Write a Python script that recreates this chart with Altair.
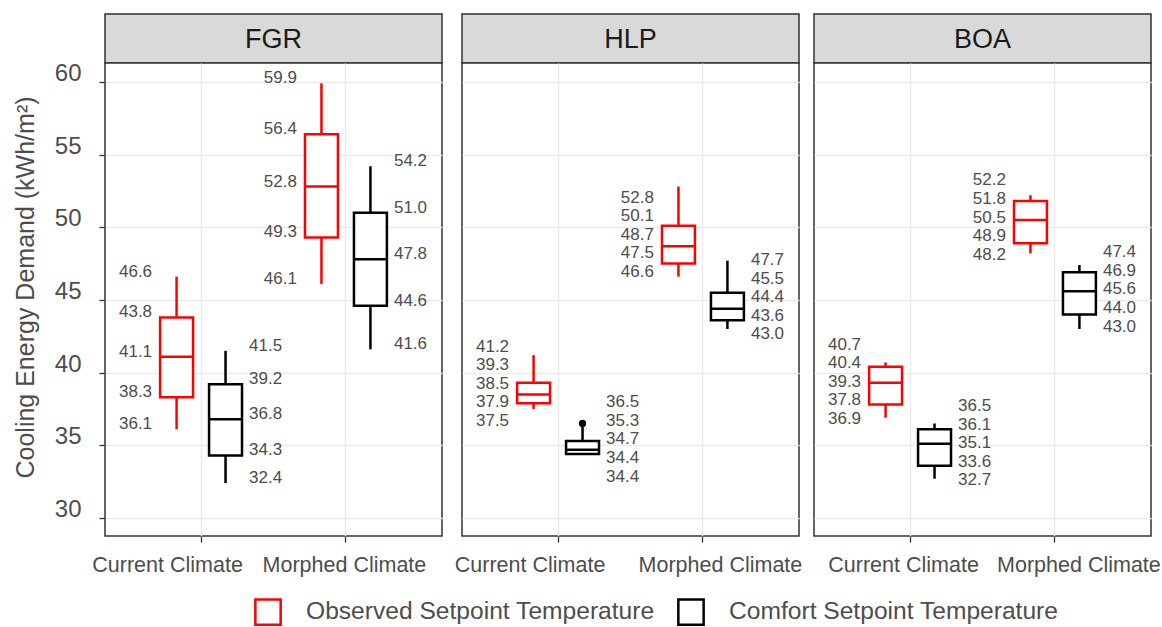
import altair as alt
import pandas as pd

# ---------------- data ----------------
sites = ["FGR", "HLP", "BOA"]
climates = ["Current Climate", "Morphed Climate"]
setpoints = ["Observed Setpoint Temperature", "Comfort Setpoint Temperature"]

# order inside each site: Current/Observed, Current/Comfort, Morphed/Observed, Morphed/Comfort
y_min = [36.1, 32.4, 46.1, 41.6, 37.5, 34.4, 46.6, 43.0, 36.9, 32.7, 48.2, 43.0]
y_q1 = [38.3, 34.3, 49.3, 44.6, 37.9, 34.4, 47.5, 43.6, 37.8, 33.6, 48.9, 44.0]
y_med = [41.1, 36.8, 52.8, 47.8, 38.5, 34.7, 48.7, 44.4, 39.3, 35.1, 50.5, 45.6]
y_q3 = [43.8, 39.2, 56.4, 51.0, 39.3, 35.3, 50.1, 45.5, 40.4, 36.1, 51.8, 46.9]
y_max = [46.6, 41.5, 59.9, 54.2, 41.2, 36.5, 52.8, 47.7, 40.7, 36.5, 52.2, 47.4]

outlier_site = ["HLP"]
outlier_climate = ["Current Climate"]
outlier_setpoint = ["Comfort Setpoint Temperature"]
outlier_value = [36.5]

# ---------------- layout / style ----------------
W, H, STRIP_H = 337, 473, 49
DOMAIN = [28.76, 61.3]
PX_PER_UNIT = H / (DOMAIN[1] - DOMAIN[0])
LABEL_GAP = 18.6 / PX_PER_UNIT
RED, BLACK, GREY_TXT = "#FF0000", "#000000", "#4D4D4D"
FONT = "Liberation Sans"
XLAB_OFFSETS = {"FGR": (-33.5, -1.5), "HLP": (-28, 17.5), "BOA": (-6.5, 24)}

rows = []
k = 0
for s in sites:
    for c in climates:
        for p in setpoints:
            rows.append(dict(site=s, climate=c, setpoint=p, ymin=y_min[k], q1=y_q1[k],
                             med=y_med[k], q3=y_q3[k], ymax=y_max[k]))
            k += 1
df = pd.DataFrame(rows)


def place_labels(values, gap):
    """labels stay at their values when they fit; otherwise the group is stacked
    evenly (spacing `gap`) around the mean of the values."""
    order = sorted(range(len(values)), key=lambda i: -values[i])
    sv = [values[i] for i in order]
    if min(a - b for a, b in zip(sv, sv[1:])) >= gap:
        return list(values)
    centre = sum(values) / len(values)
    n = len(values)
    out = [0.0] * n
    for j, i in enumerate(order):
        out[i] = centre + ((n - 1) / 2 - j) * gap
    return out


lab_rows = []
for r in rows:
    vals = [r["ymax"], r["q3"], r["med"], r["q1"], r["ymin"]]
    pos = place_labels(vals, LABEL_GAP)
    for v, py in zip(vals, pos):
        lab_rows.append(dict(site=r["site"], climate=r["climate"], setpoint=r["setpoint"],
                             value=v, label_y=py))
labels = pd.DataFrame(lab_rows)

outliers = pd.DataFrame(dict(site=outlier_site, climate=outlier_climate,
                             setpoint=outlier_setpoint, value=outlier_value))

xscale = alt.Scale(domain=climates, paddingInner=0, paddingOuter=0.163)
xoscale = alt.Scale(domain=setpoints, paddingInner=0.327, paddingOuter=0.643)
yscale = alt.Scale(domain=DOMAIN, nice=False, zero=False)
cscale = alt.Scale(domain=setpoints, range=[RED, BLACK])
LEGEND = alt.Legend(title=None, orient="none", legendX=149, legendY=584,
                    direction="horizontal", columns=2, symbolType="square",
                    symbolSize=640, symbolStrokeWidth=2.5, symbolFillColor="white",
                    labelFontSize=24.6, labelColor=GREY_TXT, labelFont=FONT, labelOffset=24,
                    columnPadding=18, labelLimit=500, padding=0)
YTICKS = [30, 35, 40, 45, 50, 55, 60]


def panel(site, idx):
    d = df[df.site == site]
    dl = labels[labels.site == site]
    do = outliers[outliers.site == site]
    off_cur, off_mor = XLAB_OFFSETS[site]
    xaxis = alt.Axis(title=None, grid=True, bandPosition=0.5, domain=False, ticks=True,
                     labelFont=FONT, labelFontSize=21.5, labelColor=GREY_TXT,
                     labelPadding=12, labelLimit=400, labelOverlap=False, labelAngle=0,
                     labelOffset={"condition": {"test": "datum.value === 'Current Climate'",
                                                "value": off_cur}, "value": off_mor})
    if idx == 0:
        yaxis = alt.Axis(values=YTICKS, title="Cooling Energy Demand (kWh/m²)",
                         grid=True, domain=False, labelFontSize=24, labelColor=GREY_TXT,
                         labelPadding=18, labelOffset=-8.5, titleFontSize=25, titleColor=GREY_TXT,
                         titleFontWeight="normal", titlePadding=16, titleFont=FONT, titleY=224)
    else:
        yaxis = alt.Axis(values=YTICKS, title=None, grid=True, domain=False,
                         labels=False, ticks=False)
    x = alt.X("climate:N", sort=climates, scale=xscale, axis=xaxis)
    xo = alt.XOffset("setpoint:N", sort=setpoints, scale=xoscale)
    stroke = alt.Stroke("setpoint:N", sort=setpoints, scale=cscale, legend=LEGEND)

    def Y(field):
        return alt.Y(field, type="quantitative", scale=yscale, axis=yaxis)

    whisk = alt.Chart(d).mark_rule(strokeWidth=2.5).encode(
        x=x, xOffset=xo, y=Y("ymin"), y2="ymax:Q", stroke=stroke)
    box = alt.Chart(d).mark_bar(filled=False, fill="white", strokeWidth=2.5).encode(
        x=x, xOffset=xo, y=Y("q1"), y2="q3:Q", stroke=stroke)
    med = alt.Chart(d).mark_bar(filled=False, strokeWidth=2.5).encode(
        x=x, xOffset=xo, y=Y("med"), y2="med:Q", stroke=stroke)
    layers = [whisk, box, med]
    if len(do):
        layers.append(alt.Chart(do).mark_point(filled=False, shape="circle", size=14,
                                               strokeWidth=3.5, opacity=1).encode(
            x=x, xOffset=xo, y=Y("value"), stroke=stroke))
    for p, align, dx in [(setpoints[0], "right", -24.5), (setpoints[1], "left", 23.5)]:
        layers.append(alt.Chart(dl[dl.setpoint == p]).mark_text(
            align=align, dx=dx, dy=-5, fontSize=17, color=GREY_TXT, font=FONT).encode(
            x=x, xOffset=xo, y=Y("label_y"), text=alt.Text("value:Q", format=".1f")))
    plot = alt.layer(*layers).properties(
        width=W, height=H, view=alt.ViewBackground(fill="white", stroke="#333333", strokeWidth=1.5))

    strip = alt.Chart(pd.DataFrame({"site": [site]})).mark_text(
        fontSize=27, color="#1A1A1A", font=FONT, dy=1).encode(
        x=alt.X("site:N", axis=None), text="site:N").properties(
        width=W, height=STRIP_H,
        view=alt.ViewBackground(fill="#D9D9D9", stroke="#333333", strokeWidth=1.5))
    return alt.vconcat(strip, plot, spacing=0, bounds="flush")


chart = alt.hconcat(*[panel(s, i) for i, s in enumerate(sites)], spacing=10).properties(
    padding={"left": 12, "top": 13, "right": 0, "bottom": 0},
    background="white",
).configure_axis(
    gridColor="#EBEBEB", gridWidth=1.3, tickColor="#333333", tickWidth=1.3, tickSize=6,
    labelFont=FONT, titleFont=FONT,
).configure_text(font=FONT)

chart.save("out.html", embed_options={"renderer": "svg", "actions": False})
